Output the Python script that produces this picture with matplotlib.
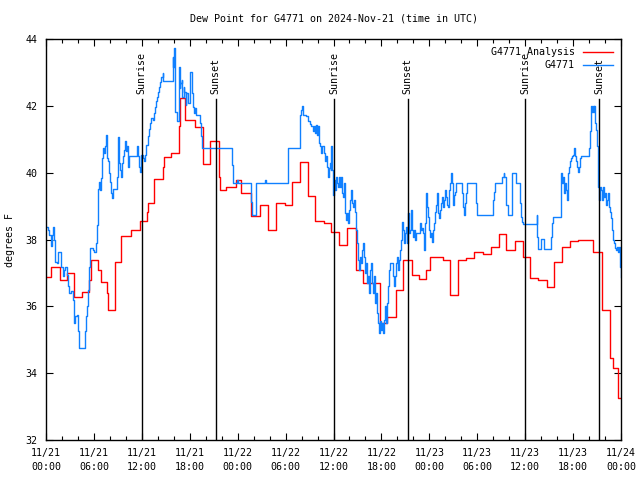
import matplotlib
matplotlib.use("Agg")
import matplotlib.pyplot as plt
import matplotlib.dates as mdates
import pandas as pd

start = pd.Timestamp("2024-11-21 00:00")

# analysis (red), hours since start / deg F
red_h = [0, 0.63, 1.7, 1.8, 2.59, 3.47, 4.47, 5.35, 5.64, 6.56, 6.9, 7.65, 7.81,
         8.6, 9.45, 10.66, 11.8, 12.62, 12.75, 13.58, 14.63, 14.75, 15.7, 16.63,
         16.72, 17.4, 18.64, 19.7, 20.56, 21.6, 21.73, 22.5, 23.8, 24.38, 25.65,
         26.75, 27.8, 28.8, 29.9, 30.8, 31.84, 32.75, 33.64, 34.77, 35.64, 36.69,
         37.73, 38.8, 39.7, 41.79, 42.75, 43.79, 44.75, 45.84, 46.67, 47.55, 48.05,
         49.72, 50.64, 51.6, 52.65, 53.6, 54.74, 55.66, 56.7, 57.66, 58.71, 59.75,
         60.59, 61.63, 62.68, 63.6, 64.64, 65.6, 66.65, 68.53, 69.57, 70.62, 70.95,
         71.66, 72.0]
red_v = [36.87, 37.19, 36.99, 36.79, 36.99, 36.27, 36.42, 36.79, 37.39, 37.09, 36.73,
         36.4, 35.9, 37.32, 38.12, 38.3, 38.57, 38.82, 39.09, 39.82, 40.17, 40.47,
         40.59, 41.4, 42.23, 41.57, 41.36, 40.26, 40.96, 39.89, 39.49, 39.59, 39.79,
         39.39, 38.71, 39.04, 38.29, 39.09, 39.04, 39.74, 40.32, 39.32, 38.56, 38.51,
         38.22, 37.84, 38.34, 37.1, 36.7, 35.5, 35.68, 36.5, 37.39, 36.94, 36.83,
         37.09, 37.49, 37.39, 36.35, 37.39, 37.44, 37.64, 37.57, 37.77, 38.16, 37.69,
         37.97, 37.47, 36.84, 36.8, 36.58, 37.32, 37.77, 37.97, 38.0, 37.62, 35.9,
         34.45, 34.17, 33.25, 33.25]

# station obs (blue)
blue_h = [0, 0.21, 0.42, 0.63, 0.75, 0.92, 1.04, 1.17, 1.34, 1.55, 1.88, 2.09, 2.3,
          2.42, 2.59, 2.8, 2.93, 3.13, 3.34, 3.47, 3.55, 3.68, 3.84, 3.97, 4.1, 4.93,
          5.01, 5.14, 5.27, 5.43, 5.56, 5.85, 6.06, 6.27, 6.39, 6.52, 6.6, 6.73, 6.85,
          6.98, 7.1, 7.23, 7.35, 7.48, 7.6, 7.77, 7.94, 8.07, 8.19, 8.32, 8.44, 8.86,
          9.07, 9.19, 9.32, 9.44, 9.57, 9.69, 9.82, 9.95, 10.07, 10.2, 10.32, 10.45,
          11.41, 11.58, 11.7, 11.83, 11.95, 12.12, 12.33, 12.45, 12.54, 12.75, 12.95,
          13.08, 13.2, 13.37, 13.5, 13.62, 13.75, 13.87, 14.0, 14.12, 14.25, 14.46,
          14.63, 14.71, 15.88, 15.96, 16.05, 16.13, 16.21, 16.38, 16.46, 16.59, 16.67,
          16.76, 16.84, 16.97, 17.09, 17.22, 17.34, 17.47, 17.59, 17.72, 17.84, 17.97,
          18.09, 18.22, 18.35, 18.47, 18.64, 18.8, 19.22, 19.43, 19.56, 23.28, 23.4,
          23.9, 24.03, 25.7, 25.78, 26.24, 26.32, 27.37, 27.58, 30.29, 31.76, 31.88,
          32.05, 32.17, 32.59, 32.8, 33.01, 33.22, 33.43, 33.55, 33.68, 33.85, 33.97,
          34.1, 34.22, 34.35, 34.47, 34.6, 34.77, 34.89, 35.02, 35.14, 35.27, 35.39,
          35.52, 35.64, 35.73, 35.85, 35.94, 36.06, 36.19, 36.31, 36.44, 36.56, 36.69,
          36.81, 36.94, 37.06, 37.19, 37.31, 37.44, 37.57, 37.69, 37.82, 37.94, 38.07,
          38.19, 38.32, 38.44, 38.57, 38.69, 38.82, 38.94, 39.07, 39.2, 39.32, 39.45,
          39.57, 39.7, 39.82, 39.95, 40.07, 40.2, 40.32, 40.45, 40.57, 40.7, 40.82,
          40.95, 41.08, 41.2, 41.33, 41.45, 41.58, 41.7, 41.83, 41.95, 42.08, 42.2,
          42.33, 42.45, 42.58, 42.7, 42.83, 42.96, 43.08, 43.5, 43.62, 43.75, 43.88,
          44.0, 44.13, 44.25, 44.38, 44.5, 44.63, 44.75, 44.88, 45.0, 45.13, 45.25,
          45.38, 45.5, 45.63, 45.76, 45.88, 46.01, 46.13, 46.26, 46.38, 46.84, 46.96,
          47.09, 47.22, 47.34, 47.47, 47.59, 47.72, 47.84, 47.97, 48.09, 48.22, 48.34,
          48.47, 48.59, 48.72, 48.85, 48.97, 49.1, 49.22, 49.35, 49.47, 49.6, 49.72,
          49.85, 49.97, 50.1, 50.22, 50.35, 50.47, 50.6, 50.73, 50.85, 50.98, 51.1,
          51.23, 51.35, 52.06, 52.19, 52.31, 52.44, 52.56, 52.69, 53.86, 53.98, 56.03,
          56.16, 56.28, 57.16, 57.29, 57.41, 57.54, 57.66, 57.79, 58.33, 58.83, 59.38,
          59.5, 59.63, 59.75, 61.42, 61.51, 61.63, 61.97, 62.38, 63.22, 63.35, 63.47,
          64.43, 64.52, 64.64, 64.77, 64.89, 65.02, 65.14, 65.27, 65.39, 65.52, 65.64,
          65.77, 65.9, 66.02, 66.15, 66.27, 66.4, 66.52, 66.65, 66.77, 66.9, 67.02,
          68.02, 68.11, 68.19, 68.32, 68.44, 68.57, 68.65, 68.74, 68.86, 68.99, 69.11,
          69.24, 69.36, 69.49, 69.61, 69.74, 69.86, 69.99, 70.12, 70.24, 70.37, 70.49,
          70.62, 70.74, 70.87, 70.99, 71.12, 71.24, 71.37, 71.49, 71.62, 71.74, 71.87,
          71.95, 72.0]
blue_v = [38.37, 38.29, 38.14, 37.81, 38.14, 38.37, 37.99, 37.34, 37.29, 37.64, 37.19,
          36.91, 37.09, 37.17, 36.94, 36.61, 36.4, 36.45, 36.2, 35.95, 35.5, 35.7,
          35.75, 35.25, 34.75, 35.25, 35.7, 36.0, 36.5, 37.19, 37.74, 37.69, 37.64,
          37.89, 38.44, 39.51, 39.74, 39.49, 39.84, 40.44, 40.74, 40.59, 40.79, 41.14,
          40.44, 40.34, 39.99, 39.74, 39.39, 39.26, 39.51, 39.89, 41.07, 40.29, 40.09,
          39.89, 40.29, 40.49, 40.69, 40.94, 40.64, 40.79, 40.19, 40.49, 40.79, 40.49,
          40.19, 40.04, 40.54, 40.44, 40.34, 40.54, 40.84, 41.09, 41.31, 41.49, 41.64,
          41.57, 41.79, 41.98, 42.16, 42.28, 42.43, 42.58, 42.73, 42.88, 42.98, 42.76,
          43.48, 43.18, 43.73, 42.68, 41.83, 41.64, 41.54, 41.93, 43.18, 42.53, 42.68,
          42.78, 42.28, 42.58, 42.43, 42.03, 42.38, 42.18, 42.08, 42.28, 43.03, 42.38,
          41.98, 41.79, 41.93, 41.73, 41.49, 41.09, 40.74, 40.24, 39.71, 39.79, 39.71,
          39.14, 38.74, 39.29, 39.71, 39.79, 39.71, 40.74, 41.74, 41.88, 42.0, 41.74,
          41.71, 41.56, 41.46, 41.39, 41.24, 41.39, 41.19, 41.44, 41.14, 41.39, 40.89,
          40.79, 40.59, 40.79, 40.59, 40.34, 40.49, 40.19, 39.89, 40.14, 40.29, 40.09,
          40.79, 40.09, 39.34, 39.79, 39.49, 39.89, 39.69, 39.59, 39.89, 39.59, 39.89,
          39.39, 39.29, 39.69, 38.79, 38.59, 38.79, 38.49, 38.89, 39.19, 39.49, 39.09,
          38.99, 39.19, 38.84, 38.29, 37.89, 37.39, 37.09, 37.49, 37.29, 37.69, 37.89,
          37.49, 36.99, 37.29, 36.7, 36.9, 36.4, 37.09, 37.29, 36.7, 36.4, 36.9, 36.1,
          36.4, 35.8, 35.5, 35.2, 35.55, 35.3, 35.5, 35.2, 35.6, 36.0, 35.5, 36.1,
          36.6, 37.09, 37.29, 36.9, 36.6, 36.9, 37.29, 37.49, 37.09, 37.39, 37.69,
          37.99, 38.54, 38.29, 37.89, 38.19, 38.39, 37.89, 38.79, 38.19, 38.29, 38.89,
          38.29, 38.09, 38.29, 37.99, 38.19, 38.49, 38.29, 38.34, 38.19, 37.69, 38.49,
          39.39, 38.99, 38.69, 38.29, 38.09, 38.19, 37.94, 38.29, 38.49, 38.84, 39.04,
          39.39, 38.79, 38.64, 38.89, 39.09, 39.29, 38.99, 39.19, 39.49, 39.29, 39.04,
          38.99, 39.49, 39.69, 39.99, 39.69, 39.04, 39.34, 39.44, 39.71, 39.39, 38.99,
          38.74, 39.09, 39.39, 39.71, 39.09, 38.74, 39.19, 39.44, 39.71, 39.89, 39.99,
          39.89, 39.39, 39.04, 38.74, 39.99, 39.71, 39.09, 38.69, 38.54, 38.47, 38.74,
          38.09, 37.71, 38.01, 37.71, 38.09, 38.49, 38.69, 39.29, 39.99, 39.69, 39.89,
          39.39, 39.69, 39.49, 39.19, 39.99, 40.19, 40.34, 40.44, 40.49, 40.54, 40.74,
          40.49, 40.34, 40.19, 40.04, 40.19, 40.44, 40.49, 40.74, 41.24, 42.0, 41.83,
          42.0, 41.83, 42.0, 41.49, 41.29, 40.79, 39.59, 39.19, 39.59, 39.49, 39.19,
          39.59, 39.29, 39.39, 39.04, 39.19, 39.39, 38.99, 38.84, 38.64, 38.29, 37.99,
          37.89, 37.74, 37.69, 37.79, 37.64, 37.79, 37.19, 36.89, 36.89]

sunrise_h = [12.0, 36.05, 60.02]
sunset_h = [21.23, 45.3, 69.29]

font = "DejaVu Sans Mono"
fs = 7.2
plt.rcParams["font.family"] = font

def t(hours):
    return [start + pd.Timedelta(hours=h) for h in hours]

fig = plt.figure(figsize=(6.4, 4.8), dpi=100)
ax = fig.add_axes([0.0719, 0.0833, 0.8984, 0.8349])

ax.plot(t(red_h), red_v, color="#ff0000", lw=1.0, drawstyle="steps-post", label="G4771 Analysis")
ax.plot(t(blue_h), blue_v, color="#1080ff", lw=1.0, drawstyle="steps-post", label="G4771")

for h, name in [(h, "Sunrise") for h in sunrise_h] + [(h, "Sunset") for h in sunset_h]:
    x = start + pd.Timedelta(hours=h)
    ax.plot([x, x], [32, 42.2], color="black", lw=1.0)
    ax.text(x, 42.35, name, rotation=90, ha="center", va="bottom", fontsize=fs)

ax.set_xlim(start, start + pd.Timedelta(hours=72))
ax.set_ylim(32, 44)
ax.set_yticks(range(32, 45, 2))
ax.xaxis.set_major_locator(mdates.HourLocator(byhour=[0, 6, 12, 18]))
ax.xaxis.set_minor_locator(mdates.HourLocator(byhour=range(0, 24, 2)))
ax.xaxis.set_major_formatter(mdates.DateFormatter("%m/%d\n%H:%M"))
ax.tick_params(axis="both", which="both", direction="in", top=True, right=True, labelsize=fs, width=0.8)
ax.tick_params(axis="x", which="major", length=5, pad=6)
ax.tick_params(axis="x", which="minor", length=3)
ax.tick_params(axis="y", which="major", length=5, pad=6)
for lab in ax.get_xticklabels():
    lab.set_linespacing(1.5)
for s in ax.spines.values():
    s.set_linewidth(1.0)

ax.set_ylabel("degrees F", fontsize=fs, labelpad=8)
ax.set_title("Dew Point for G4771 on 2024-Nov-21 (time in UTC)", fontsize=fs, pad=13)
ax.legend(loc="upper right", frameon=False, markerfirst=False, fontsize=fs,
          handlelength=3, labelspacing=0.3, borderaxespad=0.4, handletextpad=0.8)

fig.savefig("out.png", dpi=100)
